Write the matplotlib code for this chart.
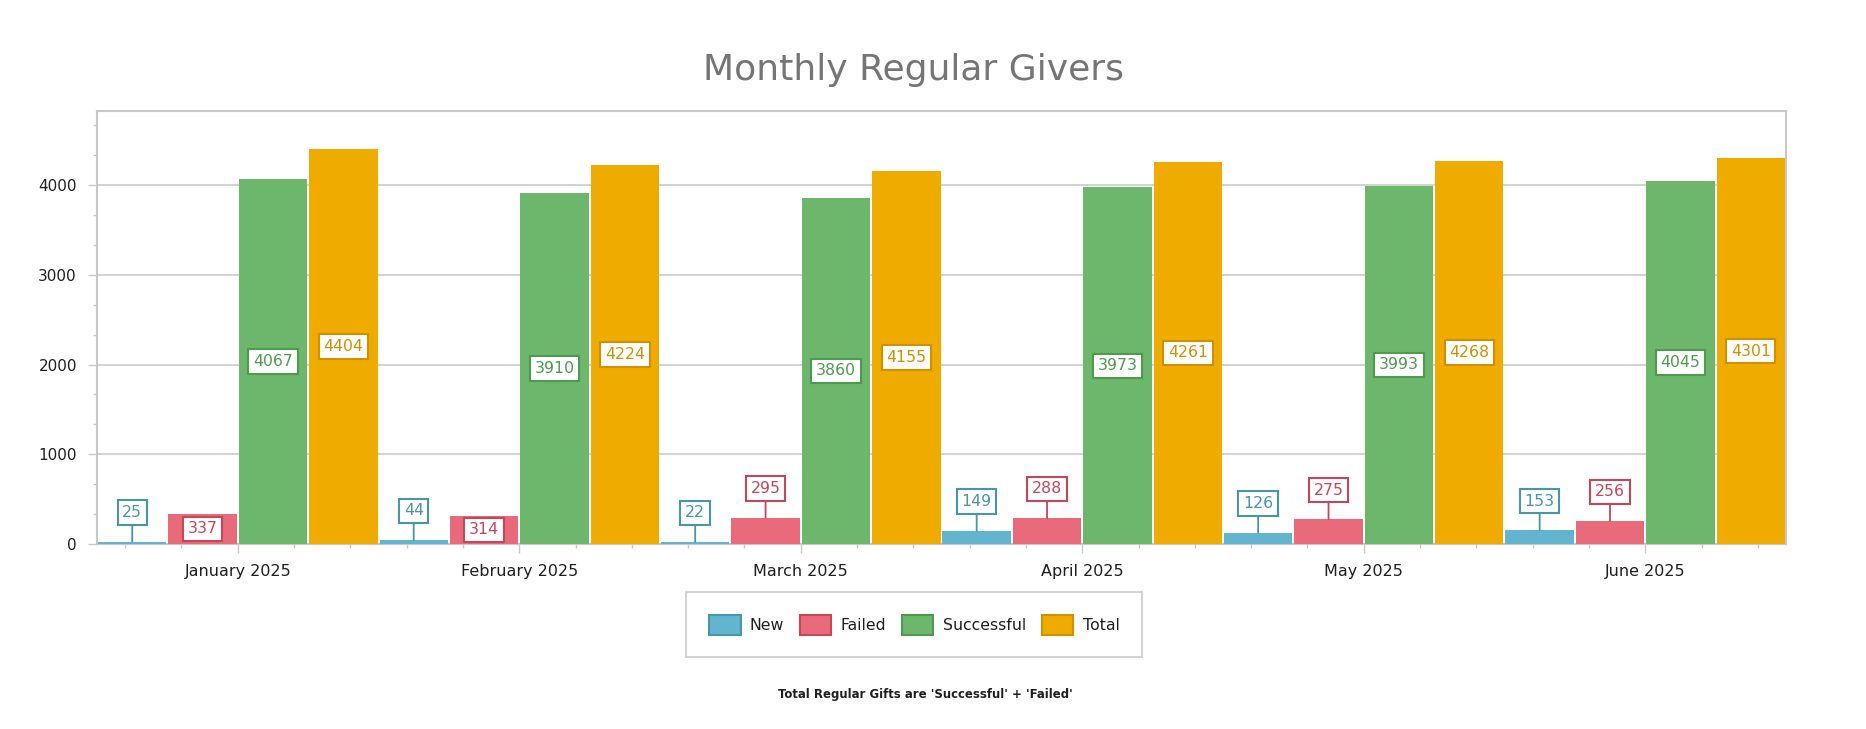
import matplotlib
matplotlib.use("Agg")
import matplotlib.pyplot as plt
from matplotlib.patches import Patch
from matplotlib.ticker import MultipleLocator
from matplotlib import font_manager
import numpy as np

# ---- data ----
months = ['January 2025', 'February 2025', 'March 2025', 'April 2025', 'May 2025', 'June 2025']
new = [25, 44, 22, 149, 126, 153]
failed = [337, 314, 295, 288, 275, 256]
successful = [4067, 3910, 3860, 3973, 3993, 4045]
total = [4404, 4224, 4155, 4261, 4268, 4301]
series_names = ['New', 'Failed', 'Successful', 'Total']
yticks = [0, 1000, 2000, 3000, 4000]

# ---- styles ----
fills = ['#62b4cf', '#e86a7b', '#6cb76c', '#f0ab00']
darks = ['#4796a9', '#c4475a', '#4f9a4f', '#d09000']
grid_c = '#c8c8c8'
text_c = '#1f1f1f'

plt.rcParams['font.family'] = ['DejaVu Sans']

fig = plt.figure(figsize=(18.66, 7.29), dpi=100)
ax = fig.add_axes([0.052, 0.2538, 0.9051, 0.5939])

x = np.arange(len(months))
offsets = [-0.375, -0.125, 0.125, 0.375]
width = 0.243
all_series = [new, failed, successful, total]

for k, (vals, fc, dc) in enumerate(zip(all_series, fills, darks)):
    ax.bar(x + offsets[k], vals, width=width, color=fc, edgecolor='none', zorder=3)
    for i, v in enumerate(vals):
        xi = x[i] + offsets[k]
        bbox = dict(boxstyle='square,pad=0.3', facecolor='white', edgecolor=dc, linewidth=1.5)
        inside = (k >= 2) or (k == 1 and v > 300)
        if inside:
            ax.annotate(str(v), (xi, v / 2), ha='center', va='center', fontsize=11.3,
                        color=dc, bbox=bbox, zorder=5)
        else:
            ax.annotate(str(v), (xi, v), xytext=(0, 21), textcoords='offset points',
                        ha='center', va='center', fontsize=11.3, color=dc, bbox=bbox,
                        arrowprops=dict(arrowstyle='-', color=dc, lw=1.3,
                                        shrinkA=0, shrinkB=0),
                        zorder=5)

ax.set_xlim(-0.5, len(months) - 0.5)
ax.set_ylim(0, 4825)
ax.set_xticks(x)
ax.set_xticklabels(months)
ax.xaxis.set_minor_locator(MultipleLocator(0.2))
ax.set_yticks(yticks)
ax.yaxis.set_minor_locator(MultipleLocator(1000 / 3))

ax.grid(axis='y', which='major', color=grid_c, linewidth=1.1, zorder=0)
ax.set_axisbelow(True)
for s in ax.spines.values():
    s.set_color(grid_c)
    s.set_linewidth(1.5)

ax.tick_params(axis='both', which='major', length=6.5, width=1.0, color=grid_c,
               labelsize=11.5, labelcolor=text_c, pad=8)
ax.tick_params(axis='y', which='major', labelsize=11)
ax.tick_params(axis='both', which='minor', length=3, width=1.0, color=grid_c)

# title
fig.text(0.4898, 0.890, 'Monthly Regular Givers', ha='center', va='baseline',
         fontsize=26, color='#757575')

# legend
handles = [Patch(facecolor=fc, edgecolor=dc, linewidth=1.5) for fc, dc in zip(fills, darks)]
leg = fig.legend(handles, series_names, loc='center', bbox_to_anchor=(0.490, 0.143),
                 ncol=4, frameon=True, fancybox=False, edgecolor=grid_c,
                 handlelength=2.0, handleheight=1.57, handletextpad=0.6,
                 columnspacing=1.0, borderpad=1.45, fontsize=11.3)
leg.get_frame().set_linewidth(1.44)
for t in leg.get_texts():
    t.set_color(text_c)

# footnote
names = {f.name for f in font_manager.fontManager.ttflist}
if 'Liberation Sans Narrow' in names:
    foot_family = ['Liberation Sans Narrow', 'DejaVu Sans']
    foot_size = 10.5
else:
    foot_family = ['DejaVu Sans']
    foot_size = 9.4
fig.text(0.4957, 0.047, "Total Regular Gifts are 'Successful' + 'Failed'", ha='center',
         va='center', fontsize=foot_size, fontweight='bold', family=foot_family,
         color=text_c, fontstretch='condensed')

fig.savefig('out.png', dpi=100, facecolor='white')
